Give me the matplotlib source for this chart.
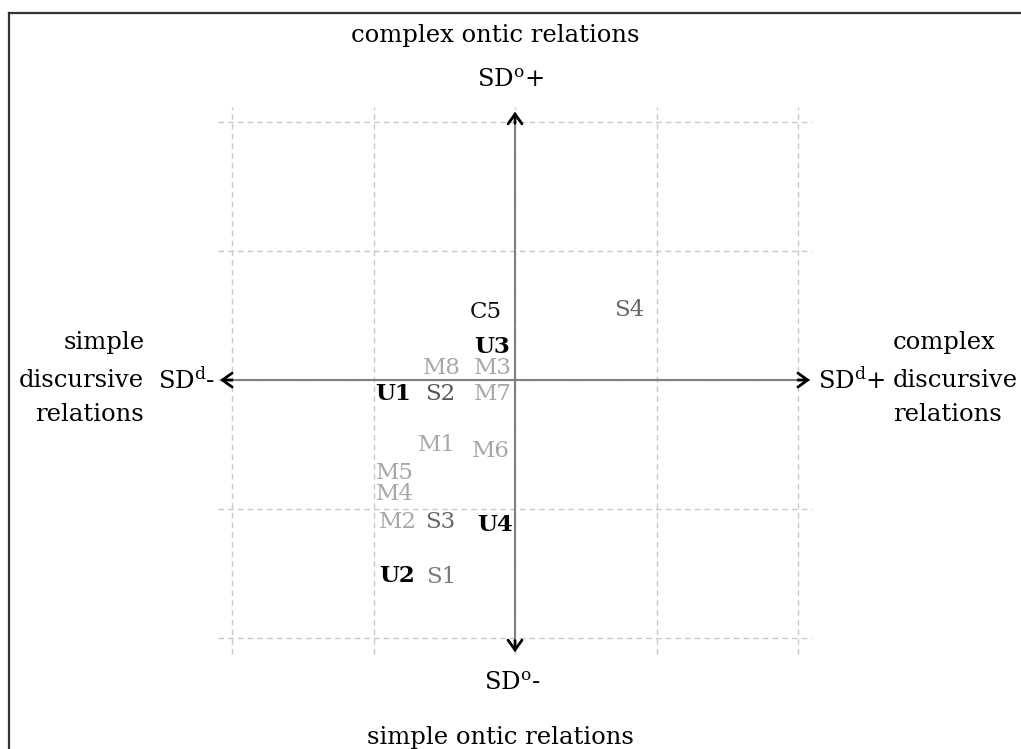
import matplotlib
matplotlib.use("Agg")
import matplotlib.pyplot as plt
from matplotlib.lines import Line2D

plt.rcParams['font.family'] = ['DejaVu Serif']
plt.rcParams['mathtext.fontset'] = 'dejavuserif'

# position of each case in the semantic plane (SDd on x, SDo on y)
labels = ['C5', 'U3', 'M8', 'M3', 'U1', 'S2', 'M7', 'M1', 'M6',
          'M5', 'M4', 'M2', 'S3', 'U4', 'U2', 'S1', 'S4']
x_vals = [-0.21, -0.16, -0.52, -0.16, -0.86, -0.53, -0.16, -0.55, -0.17,
          -0.85, -0.85, -0.83, -0.53, -0.14, -0.83, -0.52, 0.81]
y_vals = [0.53, 0.26, 0.09, 0.09, -0.11, -0.11, -0.11, -0.50, -0.55,
          -0.72, -0.88, -1.10, -1.10, -1.12, -1.52, -1.53, 0.54]
colors = ['#111111', '#000000', '#a8a8a8', '#a8a8a8', '#000000', '#555555',
          '#a8a8a8', '#a8a8a8', '#a8a8a8', '#a8a8a8', '#a8a8a8', '#a8a8a8',
          '#666666', '#000000', '#000000', '#7a7a7a', '#666666']
bold = ['U1', 'U2', 'U3', 'U4']

grid_pos = [-2, -1, 0, 1, 2]

fig = plt.figure(figsize=(10.21, 7.49), dpi=100)
ax = fig.add_axes([0, 0, 1, 1])
ax.set_xlim(-3.64, 3.576)
ax.set_ylim(-2.86, 2.946)
ax.axis('off')

# frame (only top and left edge visible in the crop)
fig.add_artist(Line2D([9 / 1021, 9 / 1021], [0, 1 - 13 / 749], color='#333333', lw=1.6))
fig.add_artist(Line2D([9 / 1021, 1], [1 - 13 / 749, 1 - 13 / 749], color='#333333', lw=1.6))

for g in grid_pos:
    ax.plot([-2.1, 2.1], [g, g], color='#c8c8c8', lw=1, ls=(0, (4, 3)), zorder=1)
    ax.plot([g, g], [-2.12, 2.12], color='#c8c8c8', lw=1, ls=(0, (4, 3)), zorder=1)

# axes
ax.plot([-2.08, 2.08], [0, 0], color='#808080', lw=1.5, zorder=2)
ax.plot([0, 0], [-2.1, 2.07], color='#808080', lw=1.5, zorder=2)
tips = [((2.085, 0), (2.0, 0)), ((-2.085, 0), (-2.0, 0)),
        ((0, 2.08), (0, 1.99)), ((0, -2.11), (0, -2.02))]
for tip, tail in tips:
    ax.annotate('', xy=tip, xytext=tail,
                arrowprops=dict(arrowstyle='->,head_length=0.7,head_width=0.5',
                                color='black', lw=2, shrinkA=0, shrinkB=0),
                zorder=3)

fs = 16.5
ft = 17.5
for lab, x, y, c in zip(labels, x_vals, y_vals, colors):
    ax.text(x, y, lab, color=c, fontsize=fs, ha='center', va='center',
            fontweight='bold' if lab in bold else 'normal', zorder=4)

# axis titles
ax.text(-0.14, 2.67, 'complex ontic relations', fontsize=ft, ha='center', va='center')
ax.text(-0.03, 2.32, r'SD$^{\mathrm{o}}$+', fontsize=ft, ha='center', va='center')
ax.text(-0.02, -2.35, r'SD$^{\mathrm{o}}$-', fontsize=ft, ha='center', va='center')
ax.text(-0.10, -2.77, 'simple ontic relations', fontsize=ft, ha='center', va='center')

ax.text(-2.12, 0, r'SD$^{\mathrm{d}}$-', fontsize=ft, ha='right', va='center')
ax.text(-2.62, 0.29, 'simple', fontsize=ft, ha='right', va='center')
ax.text(-2.62, 0, 'discursive', fontsize=ft, ha='right', va='center')
ax.text(-2.62, -0.27, 'relations', fontsize=ft, ha='right', va='center')

ax.text(2.14, 0, r'SD$^{\mathrm{d}}$+', fontsize=ft, ha='left', va='center')
ax.text(2.67, 0.29, 'complex', fontsize=ft, ha='left', va='center')
ax.text(2.67, 0, 'discursive', fontsize=ft, ha='left', va='center')
ax.text(2.67, -0.27, 'relations', fontsize=ft, ha='left', va='center')

fig.savefig('out.png', dpi=100)
